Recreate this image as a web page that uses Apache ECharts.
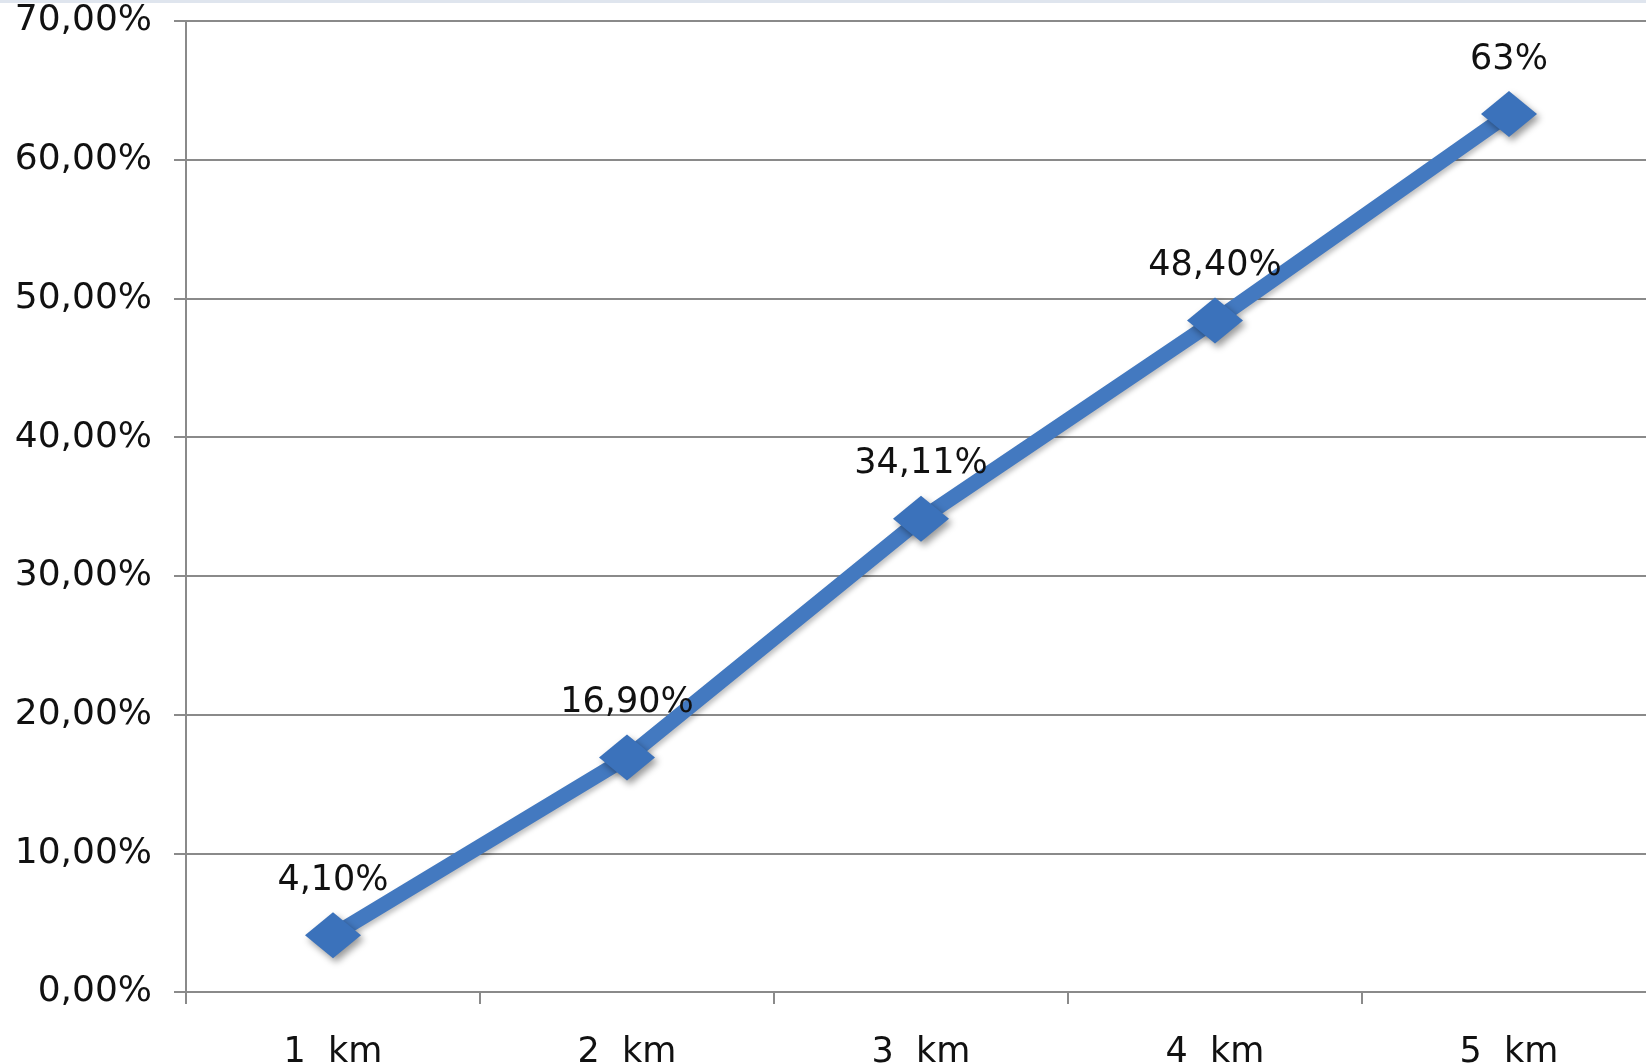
<!DOCTYPE html>
<html>
<head>
<meta charset="utf-8">
<title>Chart</title>
<script src="https://cdn.jsdelivr.net/npm/echarts@6/dist/echarts.min.js"></script>
<style>
  html, body { margin: 0; padding: 0; background: #fff; }
  #main { width: 1646px; height: 1063px; }
</style>
</head>
<body>
<div id="main"></div>
<script>
var categories = ['1  km', '2  km', '3  km', '4  km', '5  km'];
var values = [4.10, 16.90, 34.11, 48.40, 63.3];
var pointLabels = ['4,10%', '16,90%', '34,11%', '48,40%', '63%'];

var chart = echarts.init(document.getElementById('main'));

var fontFamily = '"DejaVu Sans", Verdana, sans-serif';
var gridColor = '#8a8a8a';

var option = {
  backgroundColor: '#ffffff',
  animation: false,
  graphic: [{
    type: 'rect',
    shape: { x: 0, y: 0, width: 1646, height: 3 },
    style: { fill: '#dfe5ee' }
  }],
  grid: {
    left: 186,
    top: 21,
    right: -10,
    bottom: 71,
    outerBoundsMode: 'none',
    containLabel: false
  },
  xAxis: {
    type: 'category',
    data: categories,
    boundaryGap: true,
    axisLine: { lineStyle: { color: gridColor, width: 2 } },
    axisTick: { show: true, length: 12, lineStyle: { color: gridColor, width: 2 } },
    axisLabel: {
      color: '#111',
      fontSize: 35,
      fontFamily: fontFamily,
      margin: 43
    }
  },
  yAxis: {
    type: 'value',
    min: 0,
    max: 70,
    interval: 10,
    axisLine: { show: true, lineStyle: { color: gridColor, width: 2 } },
    axisTick: { show: true, length: 12, lineStyle: { color: gridColor, width: 2 } },
    splitLine: { show: true, lineStyle: { color: gridColor, width: 2 } },
    axisLabel: {
      color: '#111',
      fontSize: 36,
      fontFamily: fontFamily,
      margin: 34,
      formatter: function (val) {
        return val.toFixed(2).replace('.', ',') + '%';
      }
    }
  },
  series: [{
    type: 'line',
    data: values,
    symbol: 'diamond',
    symbolSize: [56, 46],
    lineStyle: {
      color: '#4379c0',
      width: 15,
      shadowColor: 'rgba(0,0,0,0.25)',
      shadowBlur: 5,
      shadowOffsetX: 2,
      shadowOffsetY: 3
    },
    itemStyle: {
      color: '#3b72bb',
      shadowColor: 'rgba(0,0,0,0.4)',
      shadowBlur: 7,
      shadowOffsetX: 3,
      shadowOffsetY: 4
    },
    label: {
      show: true,
      position: 'top',
      distance: 14,
      color: '#111',
      fontSize: 35,
      fontFamily: fontFamily,
      formatter: function (p) {
        return pointLabels[p.dataIndex];
      }
    }
  }]
};

chart.setOption(option);
</script>
</body>
</html>
